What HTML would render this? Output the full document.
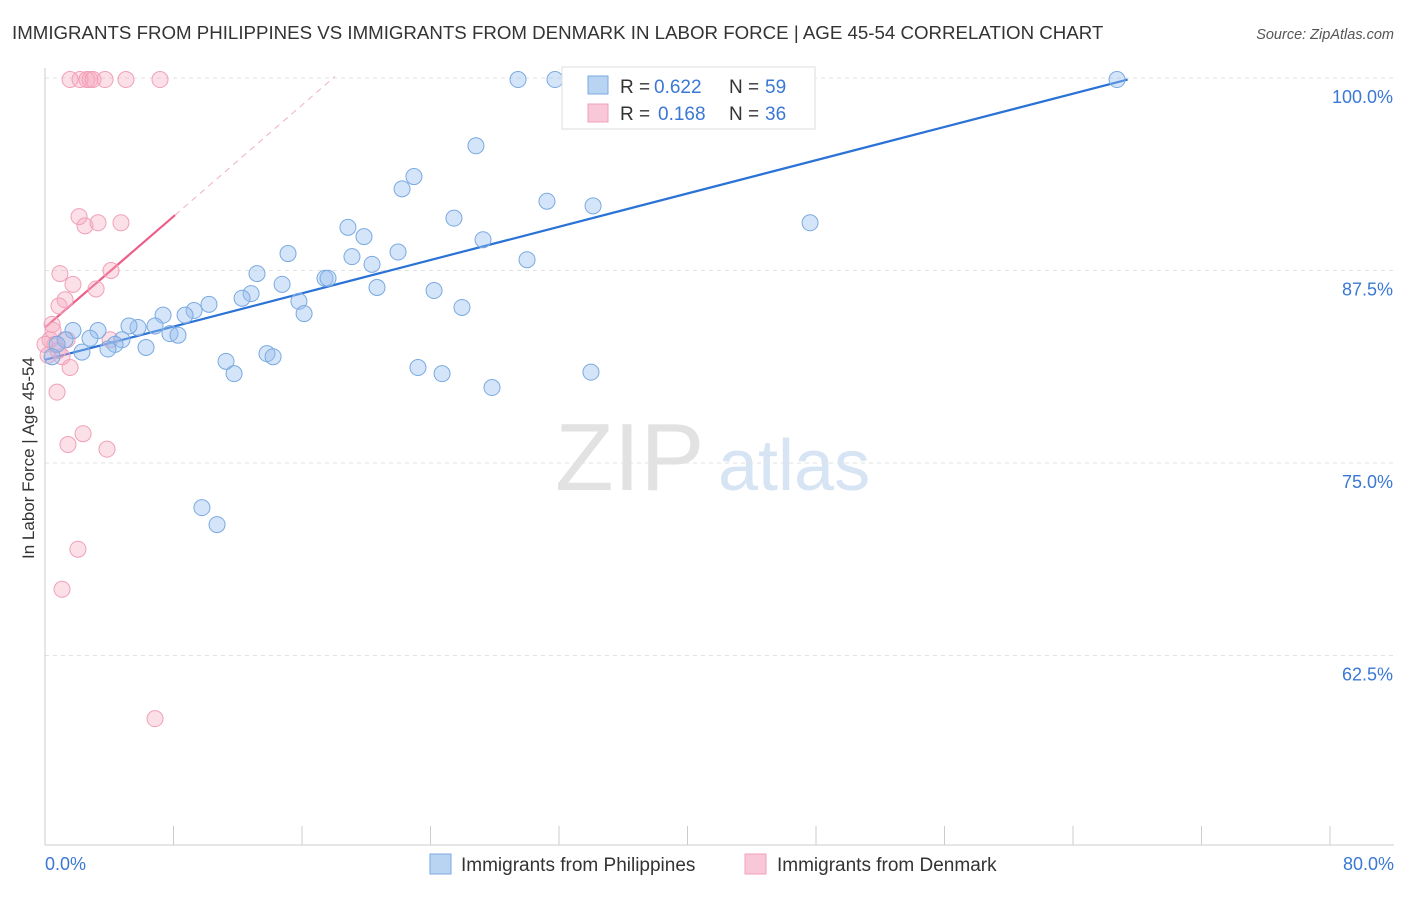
<!DOCTYPE html>
<html><head><meta charset="utf-8"><style>
body{margin:0;background:#fff;font-family:"Liberation Sans",sans-serif;}
svg text{font-family:"Liberation Sans",sans-serif;}
</style></head><body>
<svg id="c" width="1406" height="892" viewBox="0 0 1406 892">
<text x="12" y="39" font-size="18.7" fill="#333">IMMIGRANTS FROM PHILIPPINES VS IMMIGRANTS FROM DENMARK IN LABOR FORCE | AGE 45-54 CORRELATION CHART</text>
<text x="1394" y="39" font-size="14.5" fill="#555" font-style="italic" text-anchor="end">Source: ZipAtlas.com</text>
<text x="0" y="0" transform="translate(34,458) rotate(-90)" font-size="17" fill="#333" text-anchor="middle">In Labor Force | Age 45-54</text>
<g>
<text x="555" y="490" font-size="96" fill="#e2e2e2" font-family="Liberation Serif,serif">ZIP</text>
<text x="718" y="490" font-size="72" fill="#d6e4f4">atlas</text>
</g>
<g id="grid"></g><g id="axes"></g><g id="trend"></g><g id="pts"></g>
<g>
<rect x="562" y="67" width="253" height="62" fill="#fff" stroke="#ddd"/>
<rect x="588" y="76" width="20" height="18" fill="#b9d3f3" stroke="#7aaae0"/>
<text x="620" y="93" font-size="19" fill="#333">R =</text>
<text x="654" y="93" font-size="19" fill="#3a78d4">0.622</text>
<text x="729" y="93" font-size="19" fill="#333">N =</text>
<text x="765" y="93" font-size="19" fill="#3a78d4">59</text>
<rect x="588" y="104" width="20" height="18" fill="#f9c8d8" stroke="#f0a0ba"/>
<text x="620" y="120" font-size="19" fill="#333">R =</text>
<text x="658" y="120" font-size="19" fill="#3a78d4">0.168</text>
<text x="729" y="120" font-size="19" fill="#333">N =</text>
<text x="765" y="120" font-size="19" fill="#3a78d4">36</text>
</g>
<g>
<rect x="430" y="854" width="21" height="20" fill="#b9d3f3" stroke="#7aaae0"/>
<text x="461" y="871" font-size="19" fill="#333">Immigrants from Philippines</text>
<rect x="745" y="854" width="21" height="20" fill="#f9c8d8" stroke="#f0a0ba"/>
<text x="777" y="871" font-size="19" fill="#333">Immigrants from Denmark</text>
</g>
</svg>
<script>
const yTicks=[100,87.5,75,62.5];
const yTickLabels=["100.0%","87.5%","75.0%","62.5%"];
const xEndLabels=["0.0%","80.0%"];
const blueX=[29.45,31.75,66.74,26.83,22.97,22.23,31.25,34.12,25.46,47.63,18.86,19.86,27.27,15.13,19.11,21.98,20.36,30.01,13.20,17.43,17.62,14.76,20.67,24.22,12.83,12.27,15.81,10.21,25.96,16.13,9.28,8.72,7.35,6.85,5.79,5.23,7.78,8.28,3.30,1.74,2.80,1.25,4.79,4.36,3.92,6.29,2.30,0.75,0.44,13.82,14.20,11.27,11.77,23.22,24.72,27.83,33.99,9.77,10.71];
const blueY=[99.9,99.9,99.9,95.6,93.6,92.8,92.0,91.7,90.9,90.6,90.3,89.7,89.5,88.6,88.4,88.7,87.9,88.2,87.3,87.0,87.0,86.6,86.4,86.2,86.0,85.7,85.5,85.3,85.1,84.7,84.9,84.6,84.6,83.9,83.8,83.9,83.4,83.3,83.6,83.6,83.1,83.0,83.0,82.7,82.4,82.5,82.2,82.7,81.9,82.1,81.9,81.6,80.8,81.2,80.8,79.9,80.9,72.1,71.0];
const pinkX=[1.56,2.18,2.61,2.80,2.99,3.74,5.04,7.16,2.12,2.49,3.30,4.73,0.93,4.11,1.74,3.18,1.25,0.87,0.44,0.31,1.37,4.05,0.62,0.81,0.19,1.06,1.56,0.75,2.37,1.43,3.86,2.05,1.06,6.85,0,0.50];
const pinkY=[99.9,99.9,99.9,99.9,99.9,99.9,99.9,99.9,91.0,90.4,90.6,90.6,87.3,87.5,86.6,86.3,85.6,85.2,84.0,83.0,83.0,83.0,82.7,82.3,82.0,81.9,81.2,79.6,76.9,76.2,75.9,69.4,66.8,58.4,82.7,83.6];
const blueTrendX=[0,67.4];
const blueTrendY=[81.7,99.9];
const pinkTrendX=[0,8.1];
const pinkTrendY=[83.8,91.1];
const pinkDashX=[8.1,18.05];
const pinkDashY=[91.1,100.1];

const NS="http://www.w3.org/2000/svg";
const X=v=>45+v*(1285/80);
const Y=v=>78+(100-v)*15.4;
function mk(tag,attrs,parent){const e=document.createElementNS(NS,tag);for(const k in attrs)e.setAttribute(k,attrs[k]);parent.appendChild(e);return e;}
const grid=document.getElementById('grid'),axes=document.getElementById('axes'),trend=document.getElementById('trend'),pts=document.getElementById('pts');
yTicks.forEach((t,i)=>{
 const l=mk('line',{x1:45,x2:1394,y1:Y(t),y2:Y(t),stroke:'#e2e2e2','stroke-dasharray':'4,4'},grid);
 
 
 const tx=mk('text',{x:1393,y:Y(t)+25,'font-size':18,fill:'#3a78d4','text-anchor':'end'},axes);
 tx.textContent=yTickLabels[i];
 
 
});
const ax=mk('line',{x1:45,x2:45,y1:68,y2:845,stroke:'#ccc'},axes);


const bx=mk('line',{x1:45,x2:1394,y1:845,y2:845,stroke:'#ccc'},axes);


for(let i=0;i<=10;i++){
 const t=mk('line',{x1:X(i*8),x2:X(i*8),y1:826,y2:845,stroke:'#ccc'},axes);
 
 
}
[[0,'start',45],[80,'end',1394]].forEach((d,i)=>{
 const t=mk('text',{x:d[2],y:870,'font-size':18,fill:'#3a78d4','text-anchor':d[1]},axes);
 t.textContent=xEndLabels[i];
 
 
});
const bl=mk('line',{x1:X(blueTrendX[0]),y1:Y(blueTrendY[0]),x2:X(blueTrendX[1]),y2:Y(blueTrendY[1]),stroke:'#2b72d6','stroke-width':2.2},trend);


const pl=mk('line',{x1:X(pinkTrendX[0]),y1:Y(pinkTrendY[0]),x2:X(pinkTrendX[1]),y2:Y(pinkTrendY[1]),stroke:'#ec5f8a','stroke-width':2.2},trend);


const pd=mk('line',{x1:X(pinkDashX[0]),y1:Y(pinkDashY[0]),x2:X(pinkDashX[1]),y2:Y(pinkDashY[1]),stroke:'#f0b0c4','stroke-width':1,'stroke-dasharray':'6,5'},trend);


pinkX.forEach((x,i)=>{
 const c=mk('circle',{cx:X(x),cy:Y(pinkY[i]),r:8,fill:'rgba(245,165,190,0.35)',stroke:'#f0a0ba','stroke-width':1},pts);
 
 
});
blueX.forEach((x,i)=>{
 const c=mk('circle',{cx:X(x),cy:Y(blueY[i]),r:8,fill:'rgba(150,190,240,0.4)',stroke:'#7aaae0','stroke-width':1},pts);
 
 
});
</script>
</body></html>
